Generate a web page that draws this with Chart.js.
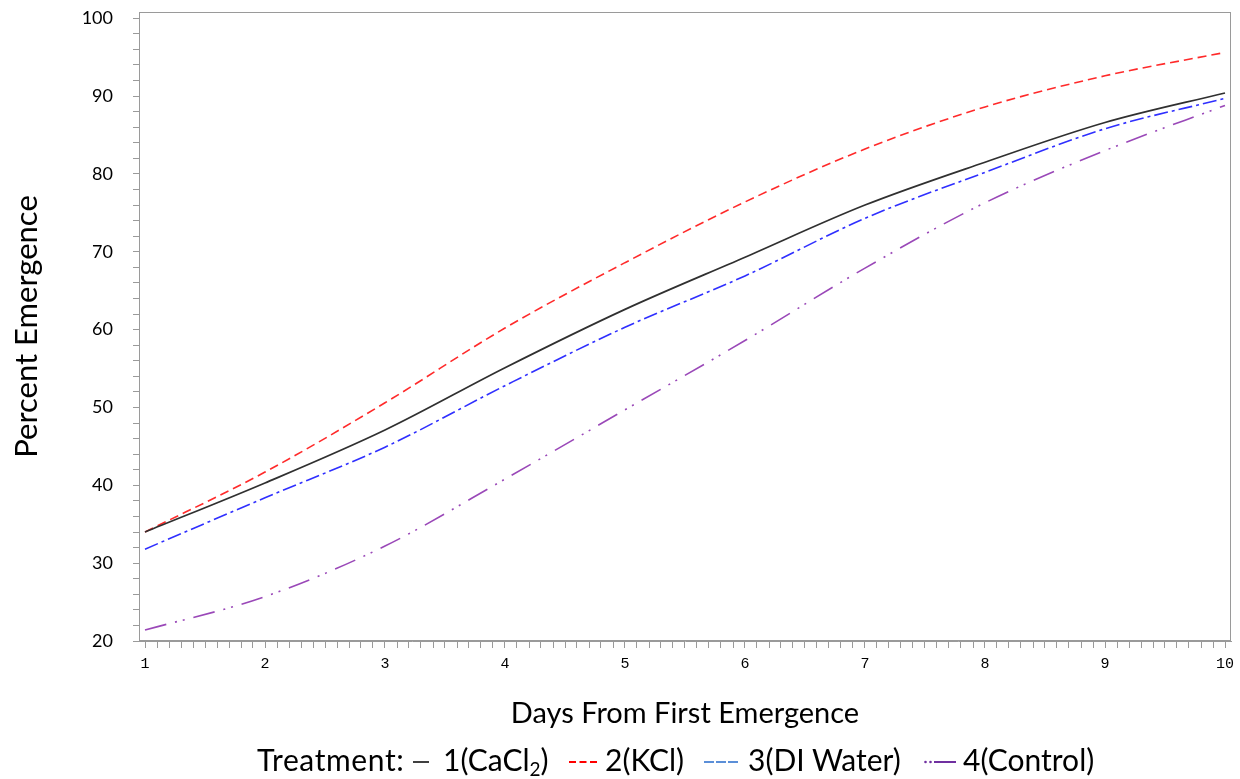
<!DOCTYPE html>
<html>
<head>
<meta charset="utf-8">
<script src="https://cdn.jsdelivr.net/npm/chart.js@4.4.0/dist/chart.umd.min.js"></script>
<style>
  html, body { margin: 0; padding: 0; background: #fff; }
  #wrap { position: relative; width: 1240px; height: 779px; overflow: hidden; }
  #c { position: absolute; left: 0; top: 0; }
  .lg { position: absolute; top: 744px; font-family: Lato, "Open Sans", sans-serif; font-size: 30px; line-height: 30px; color: #000; white-space: nowrap; }
  .lg sub { font-size: 19px; vertical-align: -5px; line-height: 0; }
  .sw { position: absolute; top: 745px; }
</style>
</head>
<body>
<div id="wrap">
  <canvas id="c" width="1240" height="779"></canvas>
  <span class="lg" style="left:257px;letter-spacing:0.6px">Treatment:</span>
  <svg class="sw" style="left:412px" width="18" height="30"><line x1="1" y1="17" x2="17" y2="17" stroke="#000" stroke-width="1.5"/></svg>
  <span class="lg" style="left:443px">1(CaCl<sub>2</sub>)</span>
  <svg class="sw" style="left:569px" width="30" height="30"><line x1="0" y1="17" x2="30" y2="17" stroke="#ff0000" stroke-width="2" stroke-dasharray="7,3.5"/></svg>
  <span class="lg" style="left:605px">2(KCl)</span>
  <svg class="sw" style="left:704px" width="36" height="30"><line x1="0" y1="17" x2="36" y2="17" stroke="#5b8fd8" stroke-width="2" stroke-dasharray="10,2"/></svg>
  <span class="lg" style="left:748px">3(DI Water)</span>
  <svg class="sw" style="left:923px" width="34" height="30"><circle cx="2.5" cy="17" r="1.3" fill="#7030a0"/><circle cx="7.5" cy="17" r="1.3" fill="#7030a0"/><line x1="11" y1="17" x2="33" y2="17" stroke="#7030a0" stroke-width="2"/></svg>
  <span class="lg" style="left:963px">4(Control)</span>
</div>
<script>
// ---- data ----
const days = [1, 2, 3, 4, 5, 6, 7, 8, 9, 10];
const cacl2   = [34.0, 40.3, 47.1, 55.1, 62.6, 69.3, 76.0, 81.5, 86.6, 90.4];
const kcl     = [34.0, 41.7, 50.6, 60.2, 68.6, 76.4, 83.2, 88.6, 92.6, 95.6];
const diWater = [31.8, 38.4, 44.9, 52.8, 60.3, 66.9, 74.3, 80.2, 85.8, 89.7];
const control = [21.4, 25.7, 32.2, 40.8, 49.7, 58.6, 67.9, 76.3, 83.0, 88.8];
const xTickLabels = [1, 2, 3, 4, 5, 6, 7, 8, 9, 10];
const yTickLabels = [20, 30, 40, 50, 60, 70, 80, 90, 100];

const pts = arr => days.map((d, i) => ({ x: d, y: arr[i] }));

const boxPlugin = {
  id: 'box',
  beforeDatasetsDraw(chart) {
    const { ctx, chartArea: a } = chart;
    ctx.save();
    ctx.strokeStyle = '#9a9a9a';
    ctx.lineWidth = 1;
    ctx.strokeRect(Math.round(a.left) + 0.5, Math.round(a.top) + 0.5, Math.round(a.right - a.left) - 1, Math.round(a.bottom - a.top) - 1);
    ctx.restore();
  }
};

const near = (v, list) => list.some(t => Math.abs(t - v) < 1e-6);

new Chart(document.getElementById('c'), {
  type: 'line',
  data: {
    datasets: [
      { label: '1(CaCl2)', data: pts(cacl2), borderColor: '#303030', borderWidth: 1.7, borderDash: [] },
      { label: '2(KCl)', data: pts(kcl), borderColor: '#ff2a2a', borderWidth: 1.6, borderDash: [9, 5] },
      { label: '3(DI Water)', data: pts(diWater), borderColor: '#2f2fff', borderWidth: 1.6, borderDash: [14, 4, 3, 4] },
      { label: '4(Control)', data: pts(control), borderColor: '#9a48b8', borderWidth: 1.6, borderDash: [22, 9, 2, 6, 2, 9] }
    ]
  },
  options: {
    responsive: false,
    animation: false,
    events: [],
    layout: { padding: { top: 12, right: 9, bottom: 44, left: 0 } },
    elements: {
      point: { radius: 0 },
      line: { cubicInterpolationMode: 'monotone', fill: false }
    },
    plugins: { legend: { display: false }, tooltip: { enabled: false } },
    scales: {
      x: {
        type: 'linear',
        min: 0.95,
        max: 10.05,
        afterBuildTicks: s => {
          const t = [];
          for (let k = 10; k <= 100; k++) t.push({ value: k / 10 });
          s.ticks = t;
        },
        afterFit: s => { s.height = 94; s.paddingLeft = 0; s.paddingRight = 0; },
        grid: { drawOnChartArea: false, drawTicks: true, tickLength: 7, tickColor: '#9a9a9a', color: '#9a9a9a' },
        border: { display: true, color: '#9a9a9a' },
        ticks: {
          autoSkip: false, maxRotation: 0, padding: 7, color: '#000',
          font: { family: 'Liberation Mono', size: 15 },
          callback: v => near(v, xTickLabels) ? String(Math.round(v)) : ''
        },
        title: {
          display: true, text: 'Days From First Emergence', color: '#000',
          font: { family: 'Lato', size: 29 }, padding: { top: 0, bottom: 4 }
        }
      },
      y: {
        min: 20,
        max: 100.8,
        afterBuildTicks: s => {
          const t = [];
          for (let v = 20; v <= 100; v += 2) t.push({ value: v });
          s.ticks = t;
        },
        afterFit: s => { s.width = 139; s.paddingTop = 0; s.paddingBottom = 0; },
        grid: { drawOnChartArea: false, drawTicks: true, tickLength: 6, tickColor: '#9a9a9a', color: '#9a9a9a' },
        border: { display: true, color: '#9a9a9a' },
        ticks: {
          autoSkip: false, padding: 20, color: '#000',
          font: { family: 'Lato', size: 18 },
          callback: v => near(v, yTickLabels) ? String(v) : ''
        },
        title: {
          display: true, text: 'Percent Emergence', color: '#000',
          font: { family: 'Lato', size: 31 }, padding: { top: 8, bottom: 0 }
        }
      }
    }
  },
  plugins: [boxPlugin]
});
</script>
</body>
</html>
